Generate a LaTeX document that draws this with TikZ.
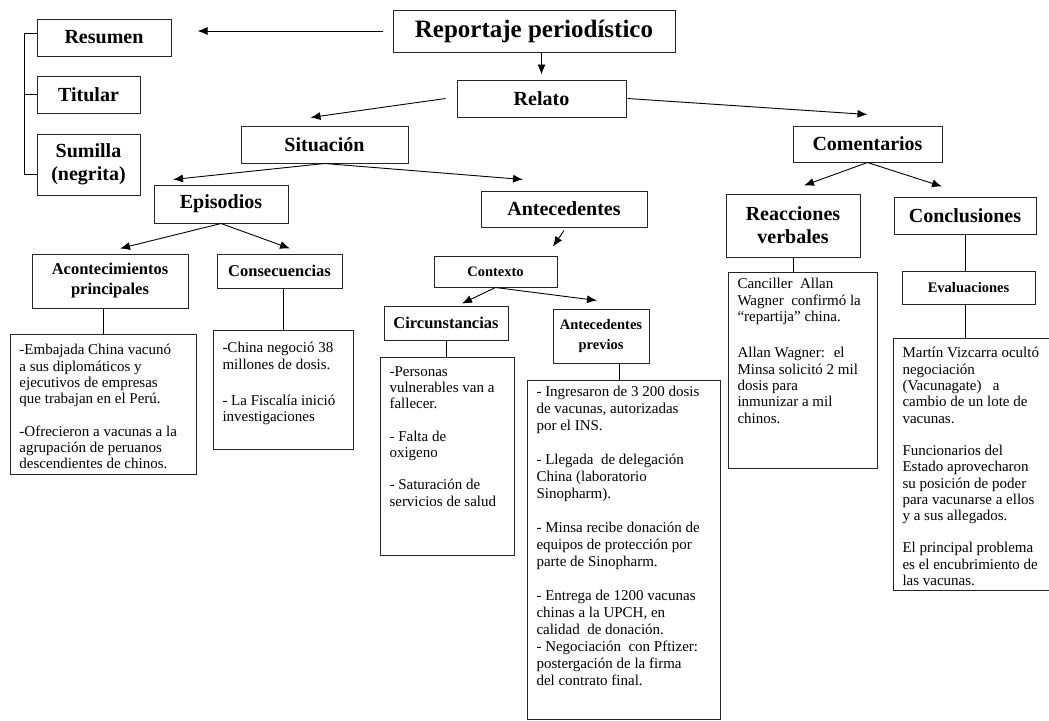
\documentclass[tikz,border=0pt]{standalone}
\usepackage{fontspec}
\setmainfont{Liberation Serif}
\usetikzlibrary{arrows.meta,calc}

\newcommand{\skipline}{\\[16pt]}

\begin{document}
\begin{tikzpicture}[
    x=1pt, y=-1pt,
    titlebox/.style={rectangle, draw=black!85, line width=1pt, align=center, inner sep=0pt, font=\bfseries},
    topbox/.style={titlebox, font=\fontsize{25}{28}\selectfont\bfseries},
    headbox/.style={titlebox, font=\fontsize{20}{23}\selectfont\bfseries},
    subbox/.style={titlebox, font=\fontsize{16.5}{20}\selectfont\bfseries},
    minibox/.style={titlebox, font=\fontsize{14.5}{20}\selectfont\bfseries},
    textbox/.style={rectangle, draw=black!85, line width=1pt, anchor=north west, inner xsep=9pt, inner ysep=6pt, font=\fontsize{15}{16.3}\selectfont},
    conn/.style={-{Latex[length=10pt,width=8pt]}, line width=0.9pt},
]
    \useasboundingbox (0,0) rectangle (1049,720);

    %Nodes
    \node[topbox, minimum width=282pt, minimum height=42pt] (reportaje) at (534,31) {Reportaje periodístico};
    \node[headbox, minimum width=134pt, minimum height=37pt] (resumen) at (104,37.5) {Resumen};
    \node[headbox, minimum width=103pt, minimum height=37pt] (titular) at (88.5,94.5) {Titular};
    \node[headbox, minimum width=103pt, minimum height=61pt] (sumilla) at (88.5,164.5) {Sumilla\\(negrita)};
    \node[headbox, minimum width=169pt, minimum height=37pt] (relato) at (541.5,98.5) {Relato};
    \node[headbox, minimum width=167pt, minimum height=37pt] (situacion) at (324.5,144.5) {Situación};
    \node[headbox, minimum width=149pt, minimum height=36pt] (comentarios) at (867.5,144) {Comentarios};
    \node[headbox, minimum width=134pt, minimum height=38pt] (episodios) at (221,204) {Episodios};
    \node[headbox, minimum width=166pt, minimum height=36pt] (antecedentes) at (564,209) {Antecedentes};
    \node[headbox, minimum width=134pt, minimum height=63pt] (reacciones) at (793,225.5) {Reacciones\\verbales};
    \node[headbox, minimum width=142pt, minimum height=37pt] (conclusiones) at (965,215.5) {Conclusiones};
    \node[subbox, minimum width=156pt, minimum height=54pt] (acontecimientos) at (110,281) {Acontecimientos\\principales};
    \node[subbox, minimum width=125pt, minimum height=34pt] (consecuencias) at (279.5,271) {Consecuencias};
    \node[minibox, minimum width=123pt, minimum height=31pt] (contexto) at (495.5,271.5) {Contexto};
    \node[subbox, minimum width=124pt, minimum height=34pt] (circunstancias) at (446,323) {Circunstancias};
    \node[minibox, minimum width=96pt, minimum height=54pt] (previos) at (601,336) {Antecedentes\\previos};
    \node[minibox, minimum width=133pt, minimum height=33pt] (evaluaciones) at (968.5,287.5) {Evaluaciones};

    %Text boxes
    \node[textbox] (acontTxt) at (10,334) {\parbox[c][128pt][t]{168pt}{\vspace*{4pt}%
        -Embajada China vacunó\\a sus diplomáticos y\\ejecutivos de empresas\\que trabajan en el Perú.\skipline
        -Ofrecieron a vacunas a la\\agrupación de peruanos\\descendientes de chinos.}};
    \node[textbox] (consecTxt) at (213,330) {\parbox[c][107pt][t]{122pt}{\vspace*{6pt}%
        -China negoció 38\\millones de dosis.\\[20pt]
        - La Fiscalía inició\\investigaciones}};
    \node[textbox] (circTxt) at (380,357) {\parbox[c][186pt][t]{116pt}{\vspace*{3pt}%
        -Personas\\vulnerables van a\\fallecer.\skipline
        - Falta de\\oxigeno\skipline
        - Saturación de\\servicios de salud}};
    \node[textbox] (previosTxt) at (527,380) {\parbox[c][327pt][t]{175pt}{\baselineskip=17pt
        - Ingresaron de 3 200 dosis\\de vacunas, autorizadas\\por el INS.\\[17pt]
        - Llegada \ de delegación\\China (laboratorio\\Sinopharm).\\[17pt]
        - Minsa recibe donación de\\equipos de protección por\\parte de Sinopharm.\\[17pt]
        - Entrega de 1200 vacunas\\chinas a la UPCH, en\\calidad \ de donación.\\
        - Negociación \ con Pftizer:\\postergación de la firma\\del contrato final.}};
    \node[textbox] (reacTxt) at (728,272) {\parbox[c][184pt][t]{131pt}{%
        Canciller \ Allan\\Wagner \ confirmó la\\“repartija” china.\\[20pt]
        Allan Wagner: \ el\\Minsa solicitó 2 mil\\dosis para\\inmunizar a mil\\chinos.}};
    \node[textbox] (evalTxt) at (893,338) {\parbox[c][240pt][t]{152pt}{\vspace*{3pt}%
        Martín Vizcarra ocultó\\negociación\\(Vacunagate) \ \ a\\cambio de un lote de\\vacunas.\skipline
        Funcionarios del\\Estado aprovecharon\\su posición de poder\\para vacunarse a ellos\\y a sus allegados.\skipline
        El principal problema\\es el encubrimiento de\\las vacunas.}};

    %Lines
    \draw[conn, shorten <=10pt, shorten >=26pt] (reportaje.west) -- (reportaje.west -| resumen.east);
    \draw[conn, shorten >=5pt] (reportaje.south -| relato.north) -- (relato.north);
    \draw[conn] ([xshift=-11pt]relato.west) -- ($(situacion.north)+(-14,-8)$);
    \draw[conn] ([xshift=1pt]relato.east) -- ($(comentarios.north)+(0,-11)$);
    \draw[conn] (situacion.south) -- ($(episodios.north)+(-48,-5)$);
    \draw[conn] (situacion.south) -- ($(antecedentes.north)+(-41,-11)$);
    \draw[conn] (episodios.south) -- ($(acontecimientos.north)+(10,-5)$);
    \draw[conn] (episodios.south) -- ($(consecuencias.north)+(10.5,-5)$);
    \draw[conn] ([yshift=-3pt]antecedentes.south) -- ($(contexto.north)+(57.5,-9)$);
    \draw[conn] (contexto.south) -- ($(circunstancias.north)+(16,-2)$);
    \draw[conn] (contexto.south) -- ($(previos.north)+(-4,-8)$);
    \draw[conn] (comentarios.south) -- ($(reacciones.north)+(11,-8)$);
    \draw[conn] (comentarios.south) -- ($(conclusiones.north)+(-23,-10)$);

    \begin{scope}[line width=1pt]
        \draw ([yshift=4.5pt]resumen.west) -- ++(-12,0) |- ([yshift=-9.5pt]sumilla.west);
        \draw (titular.west) -- ++(-12,0);
        \draw (acontTxt.north) -- (acontTxt.north |- acontecimientos.south);
        \draw (consecTxt.north) -- (consecTxt.north |- consecuencias.south);
        \draw (circunstancias.south) -- (circunstancias.south |- circTxt.north);
        \coordinate (prevTop) at ($(previosTxt.north)+(-5,0)$);
        \draw (prevTop) -- (prevTop |- previos.south);
        \draw (reacciones.south) -- (reacciones.south |- reacTxt.north);
        \draw (conclusiones.south) -- (conclusiones.south |- evaluaciones.north);
        \draw (conclusiones.south |- evaluaciones.south) -- (conclusiones.south |- evalTxt.north);
    \end{scope}
\end{tikzpicture}
\end{document}
